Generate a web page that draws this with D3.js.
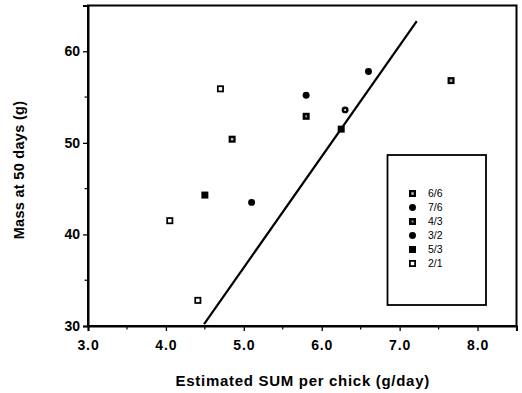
<!DOCTYPE html>
<html>
<head>
<meta charset="utf-8">
<script src="https://cdn.jsdelivr.net/npm/d3@7"></script>
<style>
  html, body { margin: 0; padding: 0; background: #fff; }
  svg { display: block; font-family: "Liberation Sans", Arial, Helvetica, sans-serif; }
</style>
</head>
<body>
<svg id="chart" width="522" height="393"></svg>
<script>
// Groups (legend order) and their measurements
const groups = ["6/6", "7/6", "4/3", "3/2", "5/3", "2/1"];
const sumByGroup = {
  "6/6": [4.85, 7.66],
  "7/6": [5.80, 6.60],
  "4/3": [5.80],
  "3/2": [5.10, 6.30],
  "5/3": [4.50, 6.25],
  "2/1": [4.70, 4.05, 4.41]
};
const massByGroup = {
  "6/6": [50.4, 56.8],
  "7/6": [55.2, 57.8],
  "4/3": [52.9],
  "3/2": [43.5, 53.6],
  "5/3": [44.3, 51.5],
  "2/1": [55.9, 41.5, 32.8]
};
// Fitted line end points
const fitX = [4.49, 7.22];
const fitY = [30.2, 63.3];

const xTicks = [3, 4, 5, 6, 7, 8];
const xMinor = [3.5, 4.5, 5.5, 6.5, 7.5, 8.5];
const yTicks = [30, 40, 50, 60];
const yMinor = [35, 45, 55];

// Marker look for each group
const markerStyle = {
  "6/6": { shape: "square", inner: "#bbb", innerSize: 2.5 },
  "7/6": { shape: "circle", inner: null },
  "4/3": { shape: "square", inner: "#999", innerSize: 2 },
  "3/2": { shape: "circle", inner: null },
  "5/3": { shape: "square", inner: null },
  "2/1": { shape: "square", inner: "#fff", innerSize: 3.5 }
};

const svg = d3.select("#chart");
const plotLeft = 88, plotRight = 516.5, plotTop = 5.5, plotBottom = 326;

const x = d3.scaleLinear().domain([3, 8.5]).range([plotLeft, plotRight]);
const y = d3.scaleLinear().domain([30, 65]).range([plotBottom, plotTop]);

// Frame
svg.append("rect")
  .attr("x", plotLeft).attr("y", plotTop)
  .attr("width", plotRight - plotLeft).attr("height", plotBottom - plotTop)
  .attr("fill", "none").attr("stroke", "#000").attr("stroke-width", 2);

// X axis
const xAxis = svg.append("g").attr("transform", `translate(0,${plotBottom})`);
xAxis.call(d3.axisBottom(x).tickValues(xTicks).tickFormat(d3.format(".1f")).tickSize(5).tickPadding(9));
xAxis.call(g => g.select(".domain").attr("stroke-width", 2));
xAxis.selectAll("line").attr("stroke-width", 1.3);
xAxis.selectAll("text").attr("font-size", 14).attr("font-weight", "bold")
  .attr("letter-spacing", 0.9)
  .attr("font-family", "Liberation Sans, Arial, sans-serif").attr("fill", "#000");
xAxis.selectAll(".minor").data(xMinor).enter().append("line")
  .attr("class", "minor")
  .attr("x1", d => x(d)).attr("x2", d => x(d))
  .attr("y1", 0).attr("y2", 3.5).attr("stroke", "#000").attr("stroke-width", 1.2);

// Y axis
const yAxis = svg.append("g").attr("transform", `translate(${plotLeft},0)`);
yAxis.call(d3.axisLeft(y).tickValues(yTicks).tickSize(5).tickPadding(3));
yAxis.call(g => g.select(".domain").attr("stroke-width", 2));
yAxis.selectAll("line").attr("stroke-width", 1.3);
yAxis.selectAll("text").attr("font-size", 14).attr("font-weight", "bold")
  .attr("font-family", "Liberation Sans, Arial, sans-serif").attr("fill", "#000");
yAxis.selectAll(".minor").data(yMinor).enter().append("line")
  .attr("class", "minor")
  .attr("y1", d => y(d)).attr("y2", d => y(d))
  .attr("x1", 0).attr("x2", -3.5).attr("stroke", "#000").attr("stroke-width", 1.2);

// Axis titles
svg.append("text")
  .attr("x", (plotLeft + plotRight) / 2 + 0.5).attr("y", 386)
  .attr("text-anchor", "middle")
  .attr("font-size", 15).attr("font-weight", "bold")
  .attr("letter-spacing", 0.7)
  .text("Estimated SUM per chick (g/day)");

svg.append("text")
  .attr("transform", "translate(24,170) rotate(-90)")
  .attr("text-anchor", "middle")
  .attr("font-size", 14.5).attr("font-weight", "bold")
  .attr("letter-spacing", 0.3)
  .text("Mass at 50 days (g)");

// Fitted line
const line = d3.line().x(d => x(d[0])).y(d => y(d[1]));
svg.append("path")
  .datum(d3.zip(fitX, fitY))
  .attr("d", line)
  .attr("fill", "none").attr("stroke", "#000").attr("stroke-width", 2.2);

// Marker drawing
function drawMarker(g, cx, cy, group) {
  const s = markerStyle[group];
  if (s.shape === "square") {
    g.append("rect")
      .attr("x", cx - 3.5).attr("y", cy - 3.5)
      .attr("width", 7).attr("height", 7).attr("fill", "#000");
    if (s.inner) {
      g.append("rect")
        .attr("x", cx - s.innerSize / 2).attr("y", cy - s.innerSize / 2)
        .attr("width", s.innerSize).attr("height", s.innerSize).attr("fill", s.inner);
    }
  } else {
    g.append("path")
      .attr("transform", `translate(${cx},${cy})`)
      .attr("d", d3.symbol(d3.symbolCircle, 38)())
      .attr("fill", "#000");
  }
}

const pts = svg.append("g");
groups.forEach(gr => {
  sumByGroup[gr].forEach((sx, i) => {
    drawMarker(pts, x(sx), y(massByGroup[gr][i]), gr);
  });
});
// ring marker on the 3/2 point at higher SUM
pts.append("circle")
  .attr("cx", x(sumByGroup["3/2"][1])).attr("cy", y(massByGroup["3/2"][1]))
  .attr("r", 1).attr("fill", "#fff");

// Legend
const legend = svg.append("g");
legend.append("rect")
  .attr("x", 387.5).attr("y", 155).attr("width", 98.5).attr("height", 150)
  .attr("fill", "#fff").attr("stroke", "#000").attr("stroke-width", 1.8);
groups.forEach((gr, i) => {
  const ly = 193.5 + i * 14;
  drawMarker(legend, 412.5, ly, gr);
  legend.append("text")
    .attr("x", 428).attr("y", ly + 3.8)
    .attr("font-size", 10.5)
    .text(gr);
});
</script>
</body>
</html>
